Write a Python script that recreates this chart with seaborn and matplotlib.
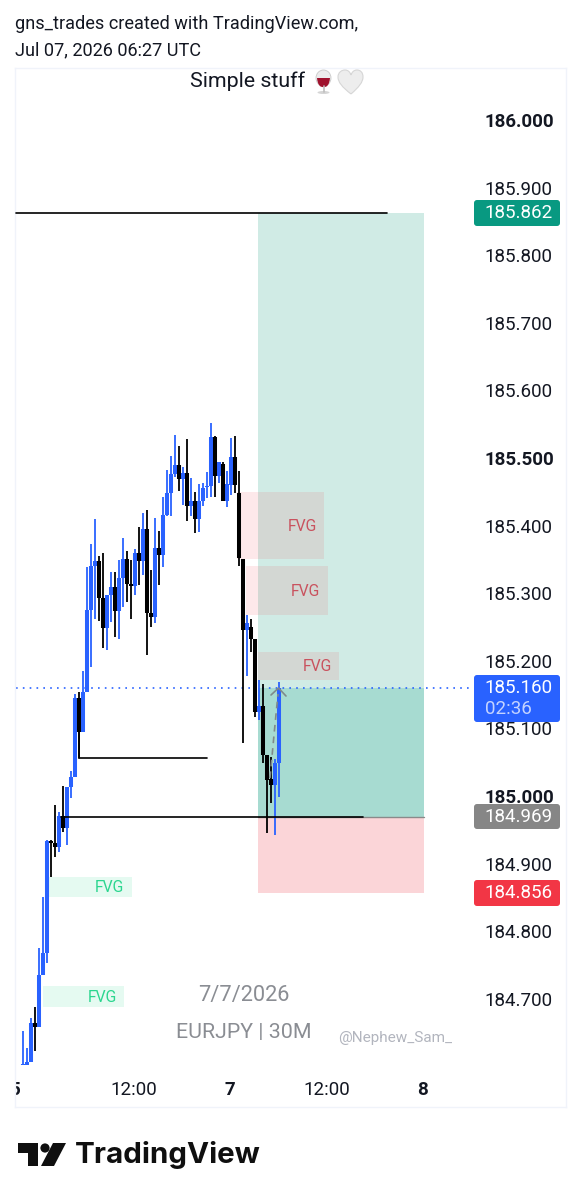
import numpy as np
import pandas as pd
import matplotlib
matplotlib.use("Agg")
import matplotlib.pyplot as plt
from matplotlib.patches import Rectangle, FancyBboxPatch, PathPatch, Circle, Polygon, Ellipse
from matplotlib.path import Path
import seaborn as sns

# ---- data -----------------------------------------------------------------
opens = [184.602,184.602,184.607,184.664,184.658,184.735,184.768,184.933,184.930,184.925,
         184.970,184.953,185.013,185.028,185.145,185.095,185.154,185.275,185.340,185.348,
         185.293,185.249,185.297,185.309,185.274,185.322,185.351,185.314,185.311,185.359,
         185.348,185.395,185.271,185.265,185.367,185.357,185.416,185.448,185.476,185.490,
         185.469,185.478,185.429,185.436,185.410,185.436,185.457,185.459,185.531,185.473,
         185.491,185.436,185.460,185.501,185.448,185.351,185.246,185.250,185.232,185.124,
         185.133,185.061,185.025,185.016,185.049]
highs = [184.652,184.627,184.672,184.688,184.775,184.851,184.935,184.935,184.987,184.976,
         185.015,185.013,185.037,185.151,185.154,185.185,185.339,185.373,185.410,185.355,
         185.359,185.297,185.331,185.331,185.349,185.382,185.362,185.349,185.365,185.398,
         185.419,185.423,185.334,185.411,185.392,185.442,185.482,185.503,185.534,185.518,
         185.487,185.528,185.470,185.450,185.462,185.463,185.479,185.552,185.533,185.494,
         185.494,185.481,185.530,185.533,185.481,185.351,185.268,185.262,185.232,185.172,
         185.166,185.061,185.058,185.055,185.169]
lows = [184.602,184.602,184.607,184.623,184.658,184.735,184.753,184.880,184.910,184.917,
        184.947,184.928,184.997,185.028,185.056,185.095,185.154,185.191,185.262,185.259,
        185.219,185.216,185.257,185.235,185.232,185.280,185.287,185.262,185.297,185.312,
        185.327,185.209,185.250,185.256,185.312,185.339,185.414,185.414,185.472,185.451,
        185.430,185.407,185.414,185.389,185.391,185.429,185.441,185.442,185.442,185.463,
        185.436,185.428,185.445,185.448,185.340,185.078,185.178,185.213,185.117,185.112,
        185.049,184.945,184.990,184.942,184.999]
closes = [184.604,184.607,184.664,184.658,184.735,184.768,184.933,184.930,184.925,184.970,
          184.953,185.013,185.028,185.145,185.095,185.154,185.275,185.340,185.348,185.293,
          185.249,185.297,185.309,185.274,185.322,185.351,185.314,185.311,185.359,185.348,
          185.395,185.271,185.265,185.367,185.357,185.416,185.448,185.476,185.490,185.469,
          185.478,185.429,185.436,185.410,185.436,185.456,185.459,185.531,185.473,185.494,
          185.436,185.462,185.501,185.460,185.352,185.246,185.256,185.232,185.124,185.133,
          185.061,185.024,185.016,185.049,185.160]

price_ticks = [184.7,184.8,184.9,185.0,185.1,185.2,185.3,185.4,185.5,185.6,185.7,185.8,185.9,186.0]
major_prices = [185.0,185.5,186.0]
time_ticks = [-2,27.75,51.6,75.75,99.75]
time_labels = ["5","12:00","7","12:00","8"]
major_times = ["5","7","8"]

target_price = 185.862
last_price = 185.160
entry_price = 184.969
stop_price = 184.856
position_span = (58.7,100.0)

level_prices = [185.862,185.056,184.969]
level_starts = [-1.8,14.0,9.5]
level_ends = [90.8,46.0,84.8]

red_fvg_lows = [185.351,185.268,185.172]
red_fvg_highs = [185.450,185.340,185.213]
red_fvg_starts = [53.5,55.7,58.7]
red_fvg_ends = [75.1,76.1,78.8]
red_fvg_text = [69.7,70.6,73.4]
green_fvg_lows = [184.851,184.688]
green_fvg_highs = [184.880,184.719]
green_fvg_starts = [6.0,5.0]
green_fvg_ends = [27.1,25.1]
green_fvg_text = [21.6,19.7]

# ---- style ----------------------------------------------------------------
sns.set_theme(style="white")
plt.rcParams["font.family"] = ["Roboto", "DejaVu Sans"]
BLUE, BLACK = "#2962FF", "#000000"
W, H = 582, 1200
fig = plt.figure(figsize=(W/100, H/100), dpi=100, facecolor="white")
ax = fig.add_axes([15/W, 1-1107/H, 551/W, 1039/H])
ax.set_xlim(-1.5, 135.54)
ax.set_ylim(184.540, 186.077)

# ---- trade position and zones ---------------------------------------------
x0, x1 = position_span
def zone(xa, xb, lo, hi, color, alpha=1.0, z=1):
    ax.add_patch(Rectangle((xa, lo), xb-xa, hi-lo, facecolor=color, alpha=alpha, edgecolor="none", zorder=z))
zone(x0, x1, entry_price, target_price, "#D0EBE5")
zone(x0, x1, entry_price, last_price, "#A7DBD1", z=1.1)
zone(x0, x1, stop_price, entry_price, "#FBD5D8")
ax.plot([x0, x1], [entry_price, entry_price], color="#8a8a8a", lw=1, zorder=1.2)
for lo, hi, a, b, t in zip(red_fvg_lows, red_fvg_highs, red_fvg_starts, red_fvg_ends, red_fvg_text):
    zone(a, b, lo, hi, "#F23645", 0.11, 1.5)
    ax.text(t, (lo+hi)/2 - 0.0015, "FVG", color="#C9525E", fontsize=11.3, ha="center", va="center", zorder=1.6)
for lo, hi, a, b, t in zip(green_fvg_lows, green_fvg_highs, green_fvg_starts, green_fvg_ends, green_fvg_text):
    zone(a, b, lo, hi, "#2BD68F", 0.12, 1.5)
    ax.text(t, (lo+hi)/2 - 0.0015, "FVG", color="#2BD68F", fontsize=11.3, ha="center", va="center", zorder=1.6)

# ---- candles --------------------------------------------------------------
bars = pd.DataFrame({"bar": np.arange(len(opens)), "open": opens, "high": highs, "low": lows, "close": closes})
bars["side"] = np.where(bars["close"] >= bars["open"], "up", "down")
palette = {"up": BLUE, "down": BLACK}
wicks = bars.melt(id_vars=["bar", "side"], value_vars=["high", "low"], value_name="price")
bodies = bars.melt(id_vars=["bar", "side"], value_vars=["open", "close"], value_name="price")
sns.lineplot(data=wicks, x="bar", y="price", units="bar", hue="side", palette=palette, estimator=None,
             linewidth=1.3, legend=False, ax=ax, zorder=3, solid_capstyle="butt")
sns.lineplot(data=bodies, x="bar", y="price", units="bar", hue="side", palette=palette, estimator=None,
             linewidth=2.9, legend=False, ax=ax, zorder=4, solid_capstyle="butt")

# ---- horizontal levels ----------------------------------------------------
levels = pd.DataFrame({"id": [0,1,2]*2, "x": level_starts+level_ends, "price": level_prices*2})
sns.lineplot(data=levels, x="x", y="price", units="id", estimator=None, color="black",
             linewidth=1.2, legend=False, ax=ax, zorder=5)
ax.plot([14.0, 14.0], [185.095, 185.056], color="black", lw=1.2, zorder=5)
ax.plot([-1.74, 112], [last_price, last_price], color=BLUE, lw=1.2, linestyle=(0, (1, 3.1)), zorder=2)

# ---- axes -----------------------------------------------------------------
ax.set_xlabel(""); ax.set_ylabel("")
ax.yaxis.tick_right()
ax.set_yticks(price_ticks)
ax.set_yticklabels([f"{p:.3f}" for p in price_ticks])
ax.set_xticks(time_ticks)
ax.set_xticklabels(time_labels)
ax.tick_params(axis="y", length=0, pad=-58.4, labelsize=13.5, labelcolor="#131722")
ax.tick_params(axis="x", length=0, pad=-18.9, labelsize=13.5, labelcolor="#131722")
for lab, p in zip(ax.get_yticklabels(), price_ticks):
    if p in major_prices:
        lab.set_fontweight("bold")
for lab in ax.get_xticklabels():
    if lab.get_text() in major_times:
        lab.set_fontweight("bold")
    lab.set_clip_on(True)
    lab.set_clip_box(ax.bbox)
for s in ax.spines.values():
    s.set_color("#F0F3FA"); s.set_linewidth(1)

# ---- overlay in page coordinates ------------------------------------------
ov = fig.add_axes([0, 0, 1, 1], facecolor="none")
ov.set_xlim(0, W); ov.set_ylim(H, 0); ov.axis("off")

ov.text(15, 24, "gns_trades created with TradingView.com,", fontsize=13.1, color="#131722", va="center")
ov.text(15, 50, "Jul 07, 2026 06:27 UTC", fontsize=13.1, color="#131722", va="center")
ov.text(190, 81, "Simple stuff", fontsize=15.4, color="#131722", va="center")

# wine glass and heart emoji
ov.add_patch(Ellipse((323.5, 78), 15, 16, facecolor="#ECECEC", edgecolor="#C9C9C9", lw=0.6))
ov.add_patch(PathPatch(Path([(317, 78), (330, 78), (329, 88), (323.5, 87), (318, 88), (317, 78)],
                            [1, 2, 3, 3, 3, 3]), facecolor="#A0122E", edgecolor="none"))
ov.plot([323.5, 323.5], [86, 92], color="#BDBDBD", lw=1.2)
ov.add_patch(Ellipse((323.5, 92.5), 12, 3, facecolor="#D5D5D5", edgecolor="none"))
heart = Path([(351, 94), (342, 87), (338, 82), (338, 77), (338, 72), (342, 70), (345, 70),
              (348, 70), (350, 72), (351, 75), (352, 72), (354, 70), (357, 70),
              (360, 70), (363, 72), (363, 77), (363, 82), (359, 87), (351, 94)],
             [1, 4, 4, 4, 4, 4, 4, 4, 4, 4, 4, 4, 4, 4, 4, 4, 4, 4, 4])
ov.add_patch(PathPatch(heart, facecolor="#EDEDED", edgecolor="#D6D6D6", lw=0.8))

# watermark
ov.text(244, 996, "7/7/2026", fontsize=15.7, color="#8a8d93", ha="center", va="center")
ov.text(244, 1032, "EURJPY | 30M", fontsize=15.4, color="#8a8d93", ha="center", va="center")
ov.text(395, 1038, "@Nephew_Sam_", fontsize=11, color="#B2B5BE", ha="center", va="center")

# planned path arrow
ov.plot([270, 274, 278], [778, 735, 694], color="#7f8a8a", lw=1.2, linestyle=(0, (4, 3)))
ov.plot([271, 278.5, 286], [695, 688, 696], color="#7f8a8a", lw=1.2)

# price labels
def tag(y0, y1, color):
    ov.add_patch(FancyBboxPatch((476, y0+2), 82, y1-y0-4, boxstyle="round,pad=2,rounding_size=3",
                                facecolor=color, edgecolor="none"))
TAG_X = 484.5
tag(200, 226, "#089981")
ov.text(TAG_X, 213, "185.862", color="white", fontsize=13.5, va="center")
tag(675, 722, BLUE)
ov.text(TAG_X, 688, "185.160", color="white", fontsize=13.5, va="center")
ov.text(TAG_X, 709, "02:36", color="#C4D3FF", fontsize=13.5, va="center")
tag(804, 829, "#868686")
ov.text(TAG_X, 817, "184.969", color="white", fontsize=13.5, va="center")
tag(880, 906, "#F23645")
ov.text(TAG_X, 893, "184.856", color="white", fontsize=13.5, va="center")

# TradingView logo
ov.add_patch(Polygon([(18, 1143), (38, 1143), (38, 1166), (28, 1166), (28, 1153), (18, 1153)], facecolor="#0F0F0F", edgecolor="none"))
ov.add_patch(Circle((45, 1148), 4.6, facecolor="#0F0F0F", edgecolor="none"))
ov.add_patch(Polygon([(53, 1143), (66, 1143), (54, 1166), (41, 1166)], facecolor="#0F0F0F", edgecolor="none"))
ov.text(75, 1155, "TradingView", fontsize=21.3, fontweight="bold", family="Inter", color="#0F0F0F", va="center")

fig.savefig("out.png", dpi=100)
